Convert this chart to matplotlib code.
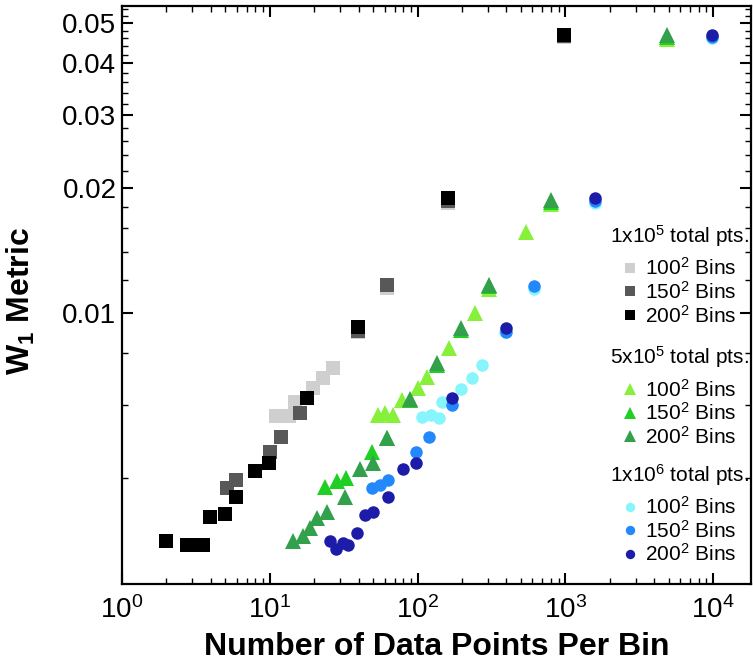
import numpy as np
import matplotlib
matplotlib.use('Agg')
import matplotlib.pyplot as plt
from matplotlib.ticker import FixedLocator, FormatStrFormatter, NullFormatter, LogLocator

plt.rcParams['font.family'] = ['Liberation Sans', 'DejaVu Sans']
plt.rcParams['mathtext.fontset'] = 'custom'
plt.rcParams['mathtext.rm'] = 'Liberation Sans'
plt.rcParams['mathtext.bf'] = 'Liberation Sans:bold'
plt.rcParams['mathtext.default'] = 'regular'

# 1x10^5 total points (squares)
x_1e5_100 = [11.1, 12.3, 13.4, 14.8, 19.5, 22.8, 26.7, 39.3, 61.7, 160, 985]
y_1e5_100 = [0.00565, 0.00565, 0.00565, 0.00610, 0.00660, 0.00697, 0.00737, 0.00900, 0.0115, 0.0184, 0.0462]
x_1e5_150 = [5.1, 5.9, 10.0, 12.0, 15.9, 39.3, 61.7, 160, 985]
y_1e5_150 = [0.00379, 0.00396, 0.00463, 0.00503, 0.00574, 0.00905, 0.0117, 0.0186, 0.0465]
x_1e5_200 = [1.98, 2.75, 3.11, 3.53, 3.93, 4.97, 5.89, 7.92, 9.84, 17.8, 39.3, 160, 985]
y_1e5_200 = [0.00281, 0.00276, 0.00276, 0.00276, 0.00322, 0.00328, 0.00360, 0.00416, 0.00435, 0.00624, 0.00925, 0.0189, 0.0468]

# 5x10^5 total points (triangles)
x_5e5_100 = [53.7, 60.5, 68, 79, 100, 116, 164, 246, 306, 545, 804, 4890]
y_5e5_100 = [0.00568, 0.00574, 0.00568, 0.00617, 0.00660, 0.00701, 0.00823, 0.0100, 0.0114, 0.0157, 0.0183, 0.0459]
x_5e5_150 = [23.5, 28.4, 32.6, 48.9, 61.7, 88.3, 136, 198, 306, 804, 4890]
y_5e5_150 = [0.00381, 0.00392, 0.00400, 0.00463, 0.00500, 0.00615, 0.00750, 0.00910, 0.0116, 0.0185, 0.0463]
x_5e5_200 = [14.3, 16.7, 18.6, 21.0, 24.3, 32.1, 40.5, 49.6, 61.7, 88.3, 136, 198, 306, 804, 4890]
y_5e5_200 = [0.00281, 0.00289, 0.00302, 0.00320, 0.00330, 0.00360, 0.00419, 0.00435, 0.00500, 0.00621, 0.00758, 0.00920, 0.0117, 0.0187, 0.0467]

# 1x10^6 total points (circles)
x_1e6_100 = [108, 124, 139, 147, 198, 232, 275, 393, 617, 1595, 9840]
y_1e6_100 = [0.00562, 0.00568, 0.00558, 0.00610, 0.00656, 0.00697, 0.00749, 0.0090, 0.0114, 0.0184, 0.0461]
x_1e6_150 = [48.9, 55.4, 62.7, 98.4, 120, 170, 399, 617, 1595, 9840]
y_1e6_150 = [0.00379, 0.00385, 0.00396, 0.00463, 0.00503, 0.00600, 0.0090, 0.0116, 0.0186, 0.0464]
x_1e6_200 = [25.4, 28.0, 31.2, 33.8, 38.7, 43.8, 49.6, 62.7, 79.2, 98.4, 172, 399, 1595, 9840]
y_1e6_200 = [0.00281, 0.00269, 0.00279, 0.00276, 0.00295, 0.00326, 0.00330, 0.00360, 0.00419, 0.00435, 0.00624, 0.00920, 0.0189, 0.0467]

bin_labels = ['100$^2$ Bins', '150$^2$ Bins', '200$^2$ Bins']
group_titles = ['1x10$^5$ total pts.', '5x10$^5$ total pts.', '1x10$^6$ total pts.']

groups = [
    ('s', 10, ['#cfcfcf', '#585858', '#000000'],
     [(x_1e5_100, y_1e5_100), (x_1e5_150, y_1e5_150), (x_1e5_200, y_1e5_200)]),
    ('^', 12, ['#86f03a', '#1fcf24', '#33a04c'],
     [(x_5e5_100, y_5e5_100), (x_5e5_150, y_5e5_150), (x_5e5_200, y_5e5_200)]),
    ('o', 9, ['#86f6fc', '#2288fb', '#1c1ca8'],
     [(x_1e6_100, y_1e6_100), (x_1e6_150, y_1e6_150), (x_1e6_200, y_1e6_200)]),
]

fig = plt.figure(figsize=(7.53, 6.68), dpi=100)
ax = fig.add_axes([0.162, 0.126, 0.835, 0.865])

legend_y = [0.535, 0.325, 0.122]
legends = []
for gi, (marker, ms, colors, series) in enumerate(groups):
    handles = []
    for (xs, ys), c in zip(series, colors):
        h, = ax.plot(xs, ys, linestyle='none', marker=marker, markersize=ms,
                     color=c, markeredgewidth=0)
        handles.append(h)
    leg = ax.legend(handles, bin_labels, title=group_titles[gi], loc='center right',
                    bbox_to_anchor=(1.0, legend_y[gi]), frameon=False,
                    fontsize=15, title_fontsize=15, markerscale=0.75,
                    handlelength=0.8, handletextpad=0.3, labelspacing=0.08,
                    borderaxespad=0.0, borderpad=0.1)
    leg._legend_box.sep = 6
    legends.append(leg)
for leg in legends[:-1]:
    ax.add_artist(leg)

ax.set_xscale('log')
ax.set_yscale('log')
ax.set_xlim(1, 1.8e4)
ax.set_ylim(0.00222, 0.055)

ax.xaxis.set_major_locator(LogLocator(base=10, numticks=10))
ax.xaxis.set_minor_locator(LogLocator(base=10, subs=np.arange(2, 10), numticks=20))
ax.yaxis.set_major_locator(FixedLocator([0.01, 0.02, 0.03, 0.04, 0.05]))
ax.yaxis.set_major_formatter(FormatStrFormatter('%.2f'))
minor_y = [v / 1000 for v in range(4, 55, 2) if v % 10 != 0]
ax.yaxis.set_minor_locator(FixedLocator(minor_y))
ax.yaxis.set_minor_formatter(NullFormatter())

ax.tick_params(which='both', direction='in', top=True, right=True)
ax.tick_params(which='major', length=8, width=1.5, labelsize=20)
ax.tick_params(axis='y', which='major', pad=4)
ax.tick_params(axis='x', which='major', pad=9)
ax.tick_params(which='minor', length=4, width=1.0)
for s in ax.spines.values():
    s.set_linewidth(1.6)

ax.set_xlabel('Number of Data Points Per Bin', fontsize=23, fontweight='bold', labelpad=6)
ax.set_ylabel(r'$\mathbf{W_1}$ Metric', fontsize=23, fontweight='bold')
ax.yaxis.set_label_coords(-0.135, 0.49)

fig.savefig('out.png', dpi=100)
